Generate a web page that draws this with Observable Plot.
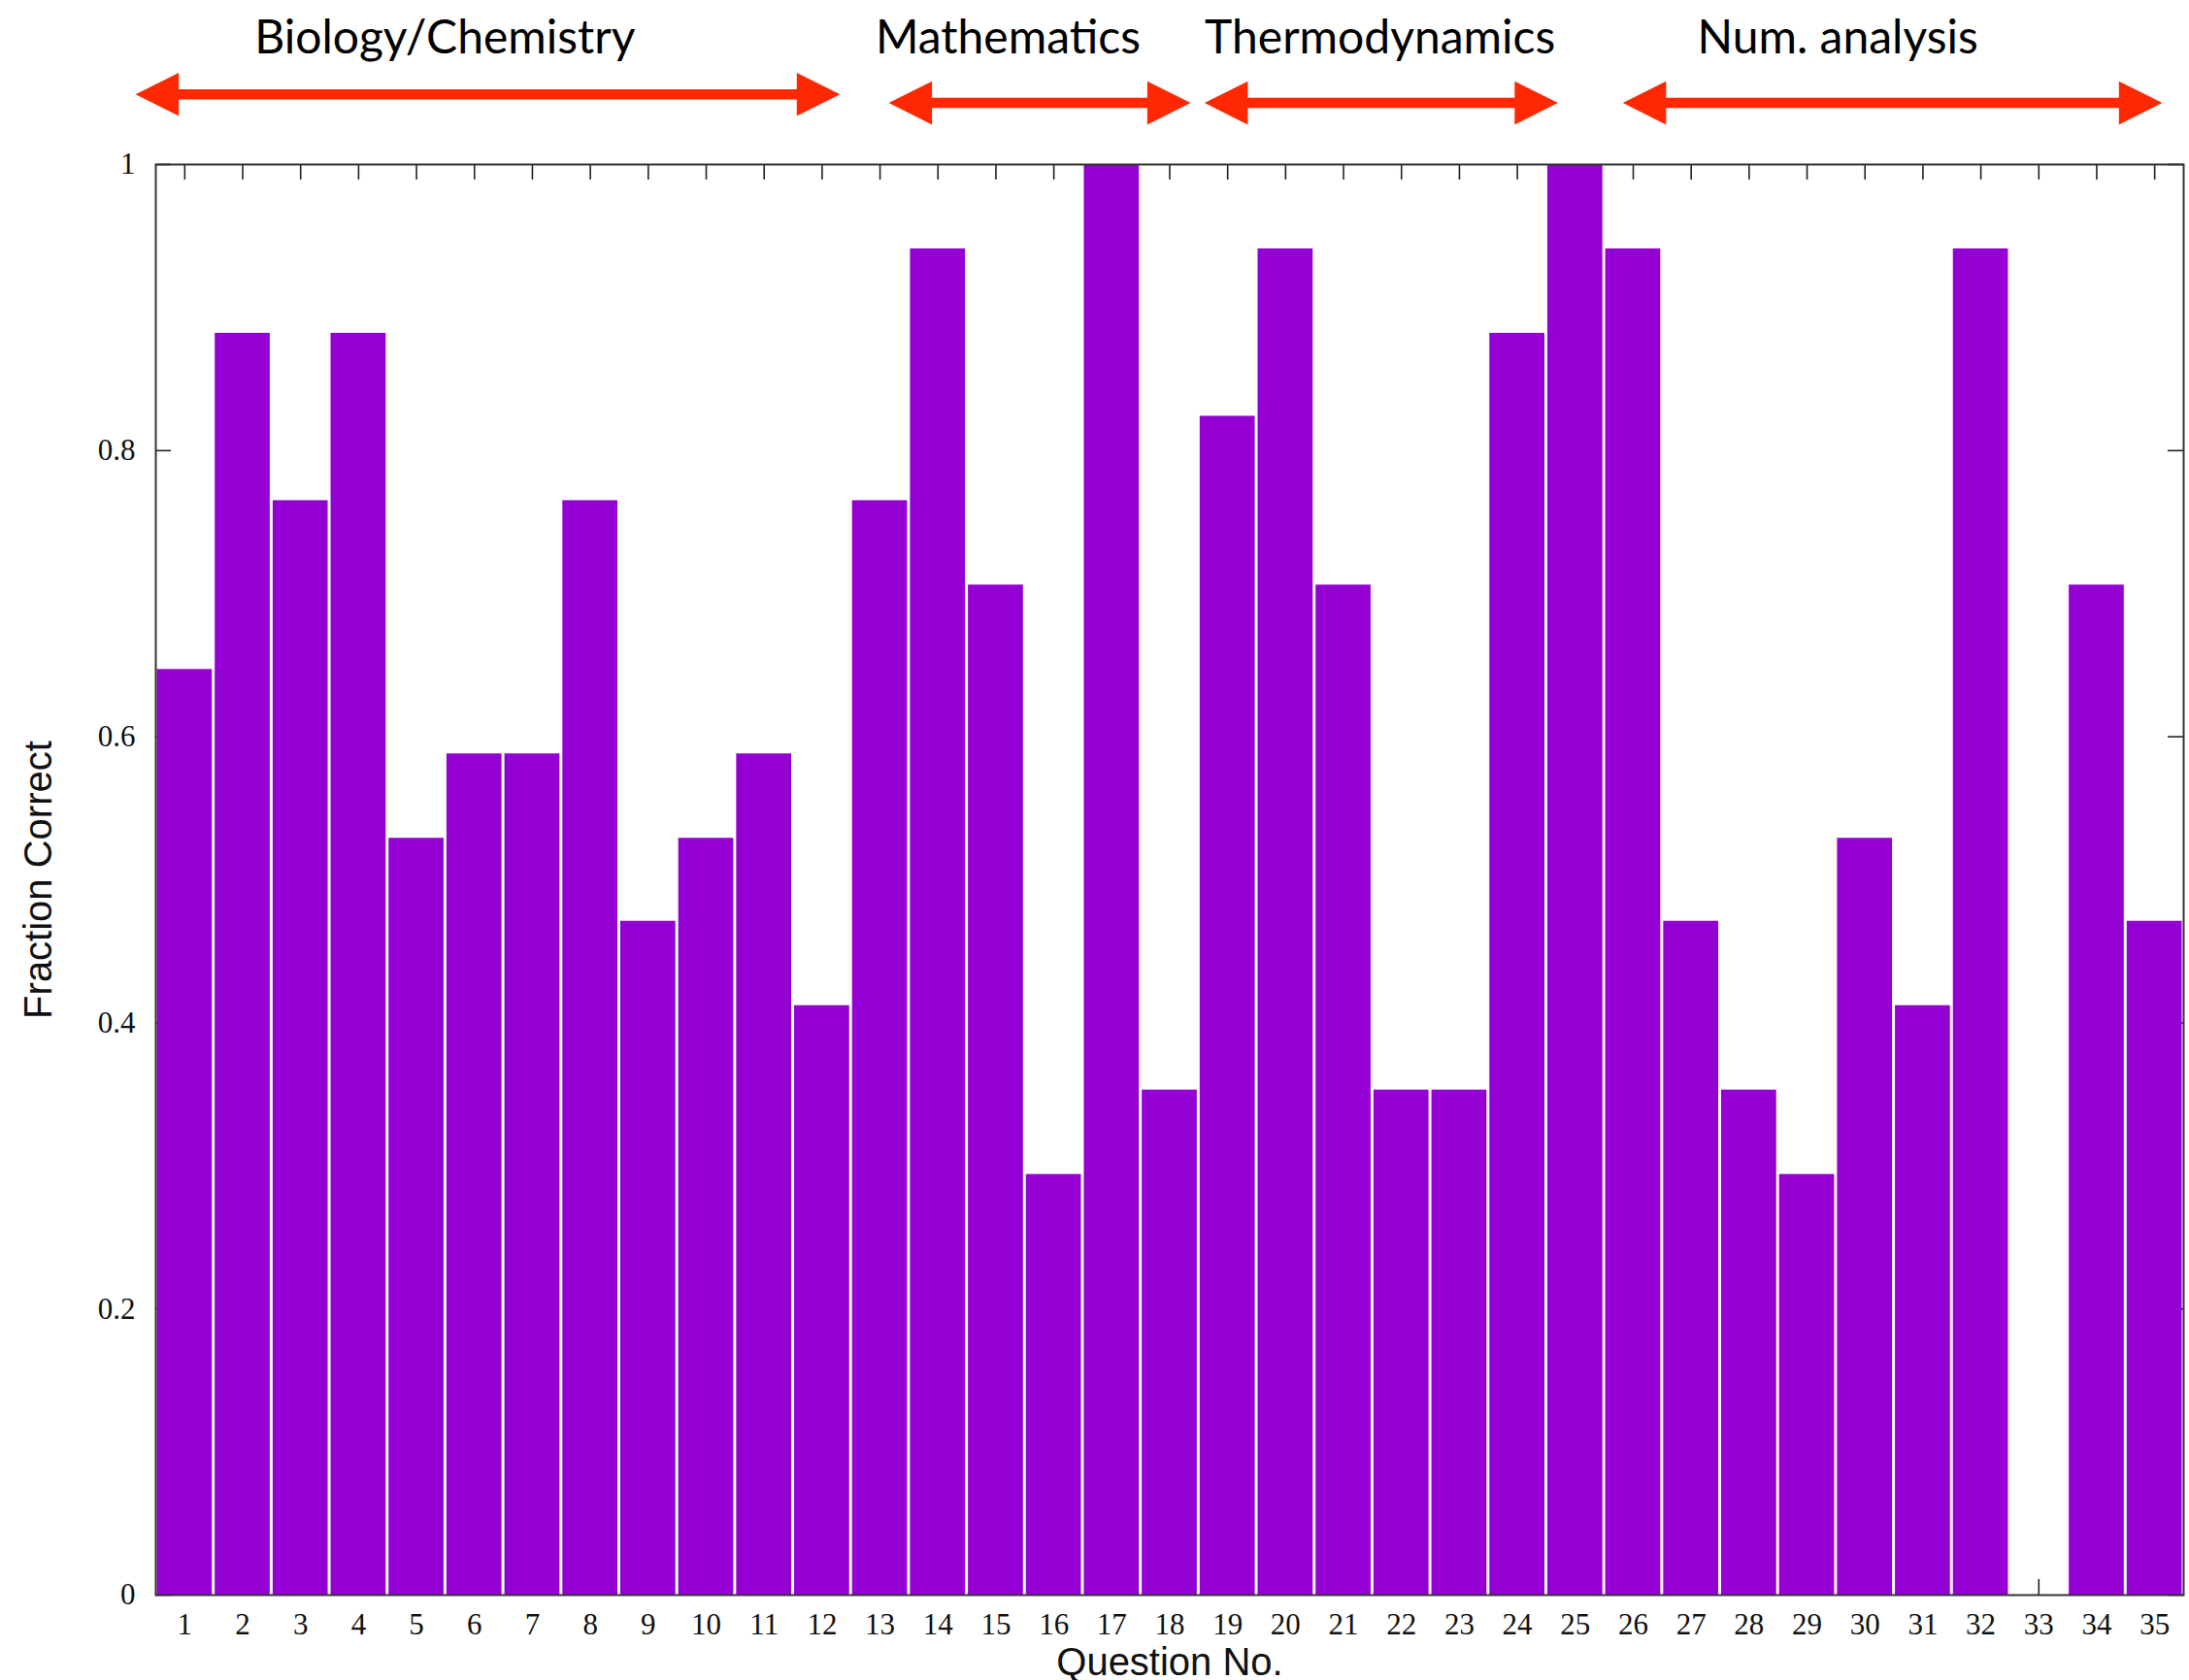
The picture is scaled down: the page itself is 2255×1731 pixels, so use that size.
<!DOCTYPE html>
<html>
<head>
<meta charset="utf-8">
<script src="https://cdn.jsdelivr.net/npm/d3@7"></script>
<script src="https://cdn.jsdelivr.net/npm/@observablehq/plot@0.6"></script>
<style>
  html, body { margin: 0; padding: 0; background: #fff; }
  #chart svg { display: block; }
</style>
</head>
<body>
<div id="chart"></div>
<script>
// ---- data ----
const questions = d3.range(1, 36);
const fractionCorrect = [
  0.647, 0.882, 0.765, 0.882, 0.529, 0.588, 0.588, 0.765, 0.471, 0.529,
  0.588, 0.412, 0.765, 0.941, 0.706, 0.294, 1.000, 0.353, 0.824, 0.941,
  0.706, 0.353, 0.353, 0.882, 1.000, 0.941, 0.471, 0.353, 0.294, 0.529,
  0.412, 0.941, 0.000, 0.706, 0.471
];
const xTickLabels = questions.map(String);
const yTicks = [0, 0.2, 0.4, 0.6, 0.8, 1];
const yTickLabels = ["0", "0.2", "0.4", "0.6", "0.8", "1"];
const groupNames = ["Biology/Chemistry", "Mathematics", "Thermodynamics", "Num. analysis"];
const xTitle = "Question No.";
const yTitle = "Fraction Correct";

// annotation layout (in question units / fraction units)
const groupLabelX = [5.49, 15.21, 21.63, 29.53];
const groupArrowX1 = [0.15, 13.15, 18.6, 25.82];
const groupArrowX2 = [12.31, 18.36, 24.7, 35.13];
const groupArrowY = [1.049, 1.043, 1.043, 1.043];
const groupLabelY = 1.078;

const bars = questions.map((q, i) => ({q, v: fractionCorrect[i]}));
const groups = groupNames.map((name, i) => ({
  name, lx: groupLabelX[i], x1: groupArrowX1[i], x2: groupArrowX2[i], y: groupArrowY[i]
}));

const purple = "#9400D3";
const red = "#FF2800";
const plotW = 2255 - 160 - 6;
const plotH = 1731 - 169 - 88;

const headLeft = {draw(ctx, size) {
  const r = Math.sqrt(size / Math.PI);
  ctx.moveTo(0, 0); ctx.lineTo(2 * r, -r); ctx.lineTo(2 * r, r); ctx.closePath();
}};
const headRight = {draw(ctx, size) {
  const r = Math.sqrt(size / Math.PI);
  ctx.moveTo(0, 0); ctx.lineTo(-2 * r, -r); ctx.lineTo(-2 * r, r); ctx.closePath();
}};

const chart = Plot.plot({
  width: 2255,
  height: 1731,
  marginLeft: 160,
  marginRight: 6,
  marginTop: 169,
  marginBottom: 88,
  style: {background: "#fff", overflow: "visible"},
  x: {domain: [0.5, 35.5], axis: null},
  y: {domain: [0, 1], axis: null},
  marks: [
    // inward ticks (behind bars)
    Plot.tickX(questions, {x: d => d, insetTop: plotH - 16, stroke: "#222", strokeWidth: 1.6}),
    Plot.tickX(questions, {x: d => d, insetBottom: plotH - 16, stroke: "#222", strokeWidth: 1.6}),
    Plot.tickY(yTicks, {y: d => d, insetRight: plotW - 16, stroke: "#222", strokeWidth: 1.6}),
    Plot.tickY(yTicks, {y: d => d, insetLeft: plotW - 16, stroke: "#222", strokeWidth: 1.6}),
    // bars
    Plot.rectY(bars, {
      x1: d => d.q - 0.5, x2: d => d.q + 0.5, y: "v",
      fill: purple, insetLeft: 1.5, insetRight: 1.5
    }),
    Plot.frame({stroke: "#333", strokeWidth: 2}),
    // axes
    Plot.axisX({
      ticks: questions, tickSize: 0, tickPadding: 18,
      tickFormat: d => xTickLabels[d - 1], label: null,
      fontSize: 31, fontFamily: "Liberation Serif", fill: "#111"
    }),
    Plot.axisY({
      ticks: yTicks, tickSize: 0, tickPadding: 21,
      tickFormat: d => yTickLabels[yTicks.indexOf(d)], label: null,
      fontSize: 31, fontFamily: "Liberation Serif", fill: "#111"
    }),
    // axis titles
    Plot.text([xTitle], {
      frameAnchor: "bottom", dy: 82, lineAnchor: "bottom",
      fontSize: 40, fontFamily: "Liberation Sans", fill: "#111"
    }),
    Plot.text([yTitle], {
      frameAnchor: "left", dx: -120, rotate: -90, textAnchor: "middle", lineAnchor: "middle",
      fontSize: 40, fontFamily: "Liberation Sans", fill: "#111"
    }),
    // group annotations
    Plot.ruleY(groups, {
      y: "y", x1: "x1", x2: "x2", stroke: red, strokeWidth: 10.5,
      insetLeft: 20, insetRight: 20
    }),
    Plot.dot(groups, {x: "x1", y: "y", symbol: headLeft, r: 22.3, fill: red}),
    Plot.dot(groups, {x: "x2", y: "y", symbol: headRight, r: 22.3, fill: red}),
    Plot.text(groups, {
      x: "lx", y: groupLabelY, text: "name", lineAnchor: "bottom",
      fontSize: 48, fontFamily: "Lato", fill: "#000"
    })
  ]
});
document.getElementById("chart").appendChild(chart);
</script>
</body>
</html>
